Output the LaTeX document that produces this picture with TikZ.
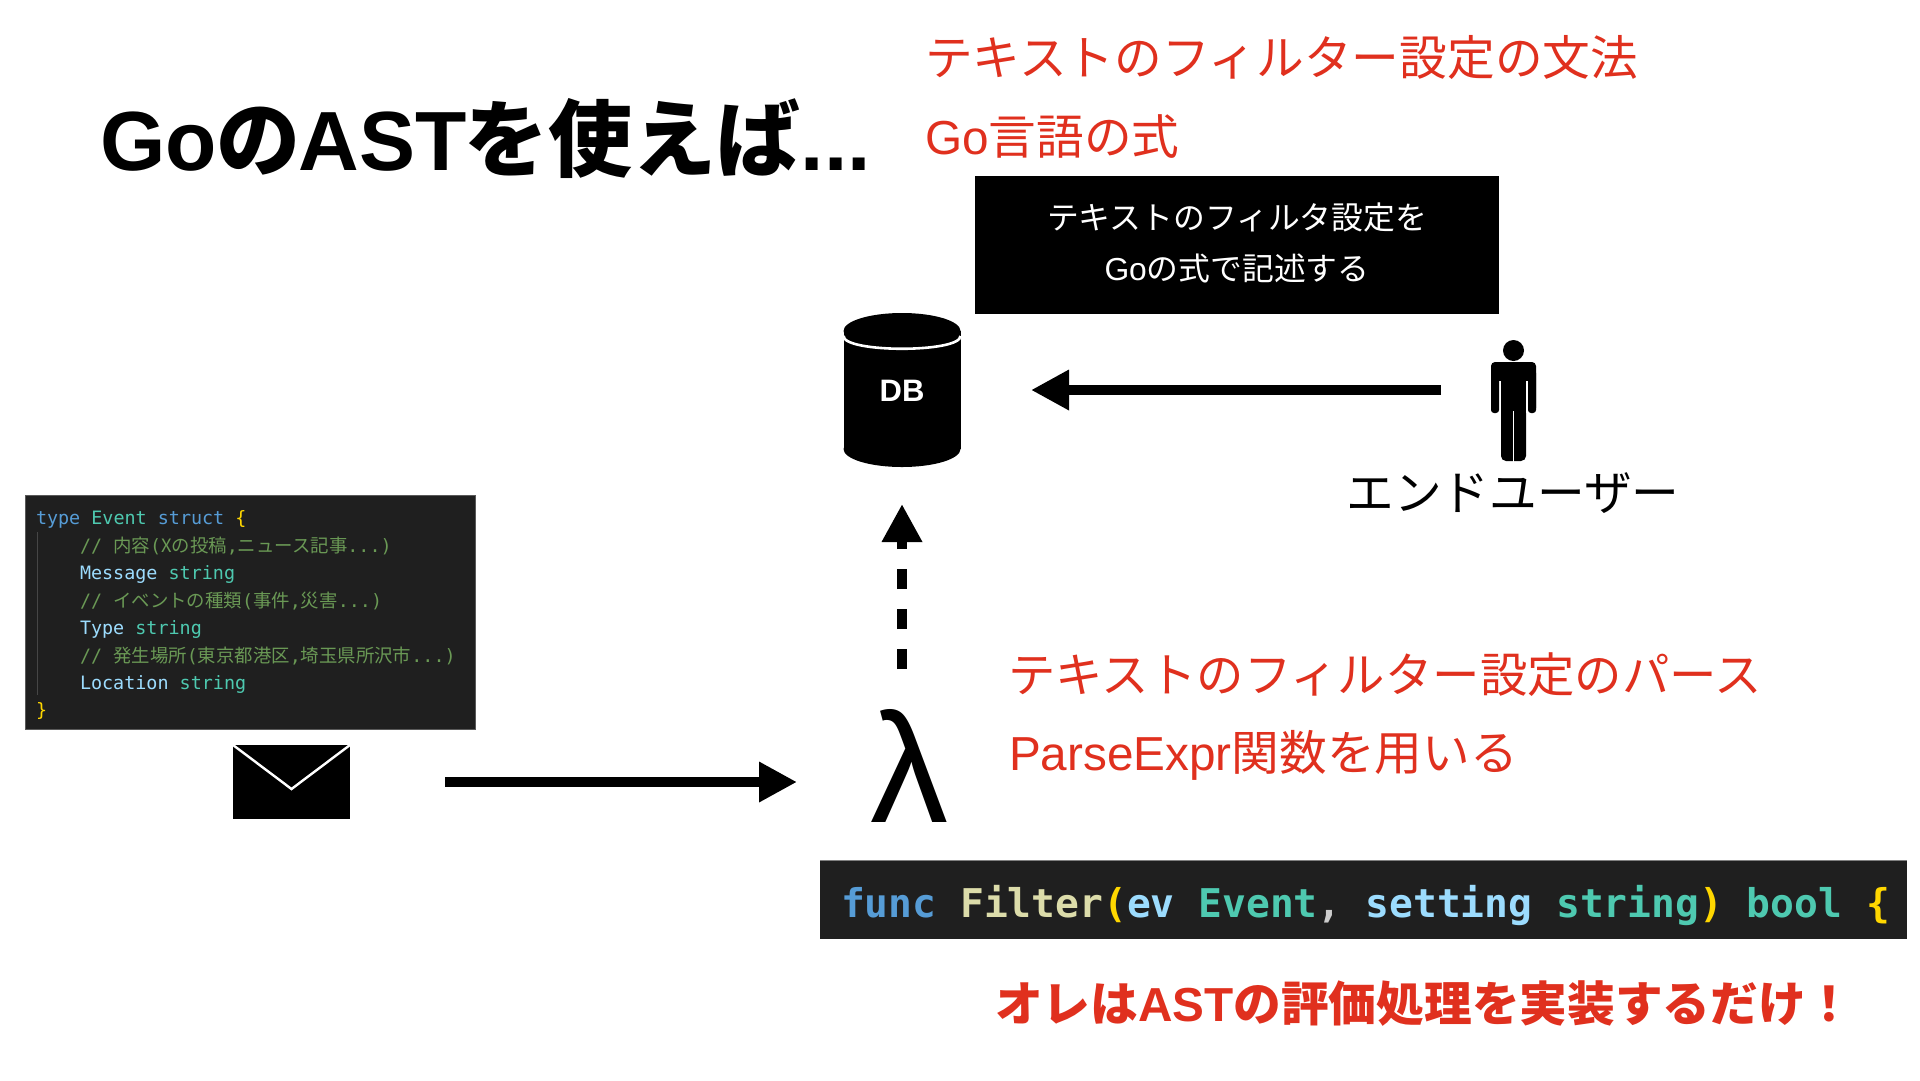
\documentclass[tikz,border=0pt]{standalone}
\usepackage{fontspec}
\setmainfont{Liberation Sans}
\setmonofont{DejaVu Sans Mono}
\newfontfamily\jp{Noto Sans CJK JP}
\newcommand{\J}[1]{{\jp #1}}
\usetikzlibrary{arrows.meta}
\definecolor{redtxt}{HTML}{E0301E}
\definecolor{codebg}{HTML}{1F1F1F}
\definecolor{kw}{HTML}{569CD6}
\definecolor{ty}{HTML}{4EC9B0}
\definecolor{fd}{HTML}{9CDCFE}
\definecolor{gd}{HTML}{FFD700}
\definecolor{cm}{HTML}{6A9955}
\definecolor{fn}{HTML}{DCDCAA}
\tikzset{
  txt/.style={anchor=base west,inner sep=0pt,outer sep=0pt},
  redlabel/.style={txt,text=redtxt,font=\fontsize{47.7}{48}\selectfont},
  boxlabel/.style={anchor=base,inner sep=0pt,text=white,font=\fontsize{31.8}{32}\selectfont},
  smallcode/.style={txt,font=\ttfamily\fontsize{18.4}{18.4}\selectfont},
  bigcode/.style={txt,font=\ttfamily\bfseries\fontsize{39.6}{39.6}\selectfont},
  heavyarrow/.style={line width=10.7pt,-{Triangle[length=38pt,width=38pt]}},
}
\begin{document}
\begin{tikzpicture}[x=1pt,y=-1pt]
\useasboundingbox (0,0) rectangle (1920,1080);
\fill[white] (0,0) rectangle (1920,1080);

% title and header
\node[txt,font=\fontsize{84}{84}\selectfont\bfseries] (title) at (100,170) {Go{\jp\bfseries の}\hspace{-2pt}AST\hspace{-2pt}{\jp\bfseries を使えば}...};
\node[redlabel] (r1) at (925,75.5) {\J{テキストのフィルター設定の文法}};
\node[redlabel] (r2) at (925,154) {Go\J{言語の式}};

% black note
\fill[black] (975,176) rectangle (1499,314);
\node[boxlabel] (b1) at (1237,229) {\J{テキストのフィルタ設定を}};
\node[boxlabel] (b2) at (1237,280) {Go\J{の式で記述する}};

% database
\fill[black] (902,449) ellipse [x radius=58.5,y radius=18];
\fill[black] (843.5,331) rectangle (960.5,449);
\fill[black] (902,331) ellipse [x radius=58.5,y radius=18];
\draw[white,line width=2.6pt] (843.5,336) .. controls (843.5,353) and (960.5,353) .. (960.5,336);
\node[anchor=base,inner sep=0pt,text=white,font=\fontsize{31}{31}\selectfont\bfseries] (db) at (902,401) {DB};

% person
\fill[black] (1513.5,350.5) ellipse [x radius=10.5,y radius=10.5];
\fill[black,rounded corners=4pt] (1491,412) -- (1491,362) -- (1536,362) -- (1536,412) -- cycle;
\fill[black,rounded corners=5pt] (1501,380) rectangle (1526,461);
\fill[white] (1491,381) rectangle (1536,413);
\fill[black,rounded corners=3pt] (1491,370) rectangle (1499,413);
\fill[black,rounded corners=3pt] (1528,370) rectangle (1536,413);
\fill[black] (1501,375) rectangle (1526,415);
\draw[white,line width=1.4pt] (1513.5,411) -- (1513.5,462);
\node[anchor=base,inner sep=0pt,font=\fontsize{47.7}{48}\selectfont] (user) at (1513,510) {\J{エンドユーザー}};

% connectors
\coordinate (ua) at (1441,390);
\coordinate (ub) at (1031,390);
\draw[heavyarrow] (ua) -- (ub);
\coordinate (la) at (902,669);
\coordinate (lb) at (902,504);
\draw[heavyarrow,dash pattern=on 20pt off 20pt] (la) -- (lb);
\coordinate (ma) at (445,782);
\coordinate (mb) at (797,782);
\draw[heavyarrow] (ma) -- (mb);

% lambda
\node[anchor=base,inner sep=0pt,font=\fontsize{156}{156}\selectfont] (lambda) at (909,822) {λ};

% red labels
\node[redlabel,font=\fontsize{47.4}{48}\selectfont] (r3) at (1008.5,692) {\J{テキストのフィルター設定のパース}};
\node[redlabel] (r4) at (1009,770) {ParseExpr\J{関数を用いる}};
\node[redlabel,font=\fontsize{47.7}{48}\selectfont\bfseries] (r5) at (995,1021) {{\jp\bfseries オレは}AST{\jp\bfseries の評価処理を実装するだけ！}};

% envelope
\fill[black] (233,745) rectangle (350,819);
\draw[white,line width=2.4pt] (233,745) -- (291.5,789) -- (350,745);

% struct code
\fill[codebg] (25,495) rectangle (475,729);
\draw[gray!70!black,line width=0.6pt] (25,495) rectangle (475,729);
\draw[gray!55!black,line width=1pt] (37,532) -- (37,695);
\node[smallcode] (c1) at (36,524) {\textcolor{kw}{type} \textcolor{ty}{Event} \textcolor{kw}{struct} \textcolor{gd}{\{}};
\node[smallcode,text=cm] (c2) at (80,552) {// {\jp 内容}({\jp X}{\jp の投稿},{\jp ニュース記事}...)};
\node[smallcode] (c3) at (80,579) {\textcolor{fd}{Message} \textcolor{ty}{string}};
\node[smallcode,text=cm] (c4) at (80,607) {// {\jp イベントの種類}({\jp 事件},{\jp 災害}...)};
\node[smallcode] (c5) at (80,634) {\textcolor{fd}{Type} \textcolor{ty}{string}};
\node[smallcode,text=cm] (c6) at (80,662) {// {\jp 発生場所}({\jp 東京都港区},{\jp 埼玉県所沢市}...)};
\node[smallcode] (c7) at (80,689) {\textcolor{fd}{Location} \textcolor{ty}{string}};
\node[smallcode] (c8) at (36,716) {\textcolor{gd}{\}}};

% func code
\fill[codebg] (820,860) rectangle (1907,939);
\draw[gray,line width=0.6pt] (820,860) -- (1907,860);
\node[bigcode] (fnc) at (841,917) {\textcolor{kw}{func} \textcolor{fn}{Filter}\textcolor{gd}{(}\textcolor{fd}{ev} \textcolor{ty}{Event}\textcolor{white!80!black}{,} \textcolor{fd}{setting} \textcolor{ty}{string}\textcolor{gd}{)} \textcolor{ty}{bool} \textcolor{gd}{\{}};
\end{tikzpicture}
\end{document}
